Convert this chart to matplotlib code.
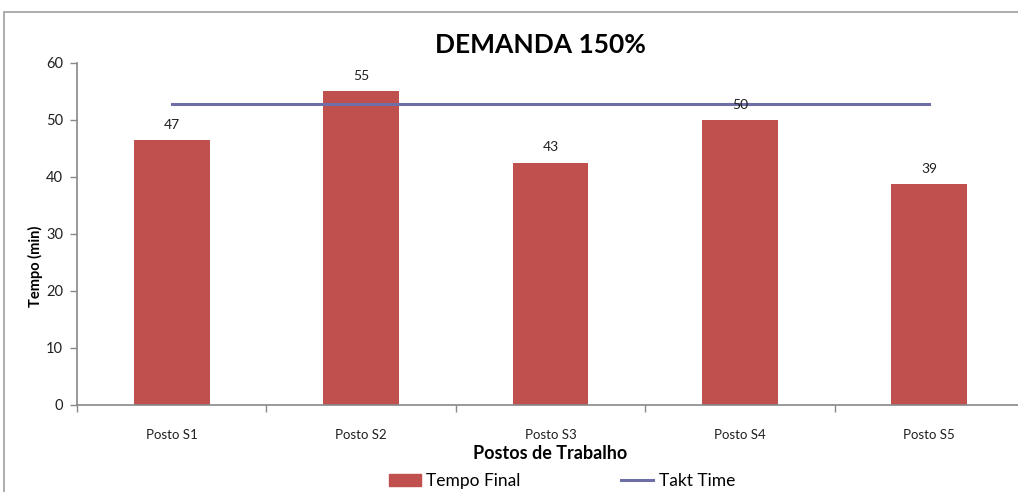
import matplotlib
matplotlib.use("Agg")
import matplotlib.pyplot as plt
from matplotlib.patches import Rectangle
from matplotlib.lines import Line2D

categories = ["Posto S1", "Posto S2", "Posto S3", "Posto S4", "Posto S5"]
tempo_final = [46.5, 55.0, 42.5, 50.0, 38.8]
bar_labels = ["47", "55", "43", "50", "39"]
takt_time = [52.7, 52.7, 52.7, 52.7, 52.7]
yticks = [0, 10, 20, 30, 40, 50, 60]

BAR = "#C0504D"
LINE = "#6E6EA8"
FONT = "Lato"
plt.rcParams["font.family"] = [FONT, "DejaVu Sans"]

W, H = 1018, 492
fig = plt.figure(figsize=(W / 100, H / 100), dpi=100)

# chart area border
fig.patches.append(Rectangle((4 / W, -0.1), 1.2, 1 - 12 / H + 0.1, transform=fig.transFigure,
                             fill=False, edgecolor="#A0A0A0", linewidth=1.2))

left, right = 77 / W, 1024 / W
bottom, top = 1 - 405 / H, 1 - 62.7 / H
ax = fig.add_axes([left, bottom, right - left, top - bottom])

x = list(range(len(categories)))
ax.bar(x, tempo_final, width=0.40, color=BAR, zorder=2)
ax.plot(x, takt_time, color=LINE, linewidth=2.2, zorder=3)

for xi, v, lab in zip(x, tempo_final, bar_labels):
    ax.text(xi, v + 1.6, lab, ha="center", va="bottom", fontsize=10, color="#202020", zorder=4)

ax.set_xlim(-0.5, len(categories) - 0.5)
ax.set_ylim(0, 60)
ax.set_yticks(yticks)
ax.set_yticklabels([str(t) for t in yticks], fontsize=10.5, color="#202020")
ax.set_xticks(x)
ax.set_xticklabels(categories, fontsize=9.5, color="#202020")
ax.tick_params(axis="x", length=0, pad=17)
ax.tick_params(axis="y", length=5, width=1, color="#888888", pad=5)
ax.set_xticks([i - 0.5 for i in range(len(categories) + 1)], minor=True)
ax.tick_params(axis="x", which="minor", length=5, width=1, color="#888888")

for s in ["top", "right"]:
    ax.spines[s].set_visible(False)
for s in ["left", "bottom"]:
    ax.spines[s].set_color("#888888")
    ax.spines[s].set_linewidth(1.2)

fig.text(35 / W, 1 - 266 / H, "Tempo (min)", rotation=90, ha="center", va="center",
         fontsize=10.5, fontweight="bold", color="black")
ax.set_xlabel("Postos de Trabalho", fontsize=13, fontweight="bold", labelpad=3)

fig.text(540 / W, 1 - 45 / H, "DEMANDA 150%", ha="center", va="center",
         fontsize=19, fontweight="bold", color="black")

handles = [Rectangle((0, 0), 1, 1, color=BAR), Line2D([0], [0], color=LINE, linewidth=2.2)]
fig.legend(handles, ["Tempo Final", "Takt Time"], loc="center", bbox_to_anchor=(562 / W, 1 - 481 / H),
           ncol=2, frameon=False, fontsize=12.5, handlelength=1.85, handleheight=0.7,
           columnspacing=5.8, handletextpad=0.3)

fig.savefig("out.png", dpi=100)
